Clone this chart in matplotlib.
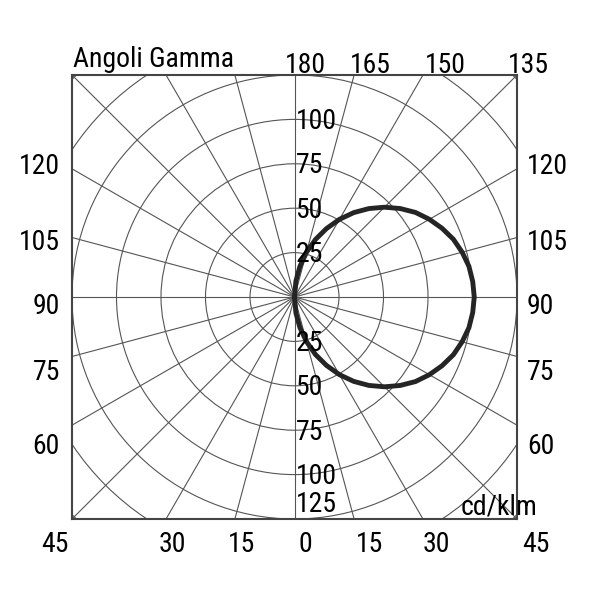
import numpy as np
import matplotlib
matplotlib.use("Agg")
import matplotlib.pyplot as plt
from matplotlib.patches import Circle

# intensity readings (cd/klm), gamma measured from straight down (0) to up (180)
gamma = [0, 5, 10, 15, 20, 25, 30, 35, 40, 45, 50, 55, 60, 65, 70, 75, 80, 85, 90,
         95, 100, 105, 110, 115, 120, 125, 130, 135, 140, 145, 150, 155, 160, 165, 170, 175, 180]
intensity = [0, 9, 17.5, 26, 34.5, 42.5, 50.5, 58, 65, 71.5, 77.5, 83, 87.5, 91.5, 95, 97.5, 99.5, 100.5, 101,
             100.5, 99.5, 97.5, 95, 91.5, 87.5, 83, 77.5, 71.5, 65, 58, 50.5, 42.5, 34.5, 26, 17.5, 9, 0]

rings = [25, 50, 75, 100, 125, 150, 175]
ring_labels = ["25", "50", "75", "100"]
spokes = np.arange(0, 360, 15)

top_labels = ["180", "165", "150", "135"]
side_labels = ["120", "105", "90", "75", "60"]
bottom_labels = ["45", "30", "15", "0", "15", "30", "45"]

FONT = ['Roboto Condensed', 'Archivo Narrow', 'DejaVu Sans']
FS = 20

fig = plt.figure(figsize=(6, 6), dpi=100)
ax = fig.add_axes([72/600, 81/600, 445/600, 444/600])
ax.set_xlim(-125, 125)
ax.set_ylim(-125, 125)
ax.set_xticks([])
ax.set_yticks([])
for s in ax.spines.values():
    s.set_color('#444444')
    s.set_linewidth(1.5)

gridc = '#555555'
for r in rings:
    ax.add_patch(Circle((0, 0), r, fill=False, ec=gridc, lw=0.8))
for a in spokes:
    t = np.radians(a)
    ax.plot([0, 250*np.sin(t)], [0, -250*np.cos(t)], color=gridc, lw=0.8)

g = np.radians(gamma)
I = np.array(intensity)
ax.plot(I*np.sin(g), -I*np.cos(g), color='#252525', lw=3.5, solid_capstyle='round')

# ring values, above and below the centre
for r, lab in zip(rings, ring_labels):
    ax.text(0.5, r - 1.2, lab, ha='left', va='center', fontsize=FS, family=FONT)
    ax.text(0.5, -r - 1.2, lab, ha='left', va='center', fontsize=FS, family=FONT)
ax.text(0.5, -124.5, "125", ha='left', va='bottom', fontsize=FS, family=FONT)

# pixel -> axes fraction
def px(x, y):
    return ((x - 72) / 445, (519 - y) / 444)

tr = ax.transAxes
for lab, x in zip(top_labels, [305, 370, 445, 528]):
    ax.text(*px(x, 73), lab, transform=tr, ha='center', va='baseline', fontsize=FS, family=FONT)
for lab, y in zip(side_labels, [167, 242, 306, 372, 447]):
    ax.text(*px(60, y), lab, transform=tr, ha='right', va='center', fontsize=FS, family=FONT)
    ax.text(*px(527, y), lab, transform=tr, ha='left', va='center', fontsize=FS, family=FONT)
for lab, x in zip(bottom_labels, [55, 172, 242, 305, 369, 436, 536]):
    ax.text(*px(x, 545), lab, transform=tr, ha='center', va='center', fontsize=FS, family=FONT)

ax.text(*px(73, 67), "Angoli Gamma", transform=tr, ha='left', va='baseline', fontsize=FS, family=FONT)
ax.text(*px(537, 515), "cd/klm", transform=tr, ha='right', va='baseline', fontsize=FS, family=FONT)

fig.savefig("out.png", dpi=100)
